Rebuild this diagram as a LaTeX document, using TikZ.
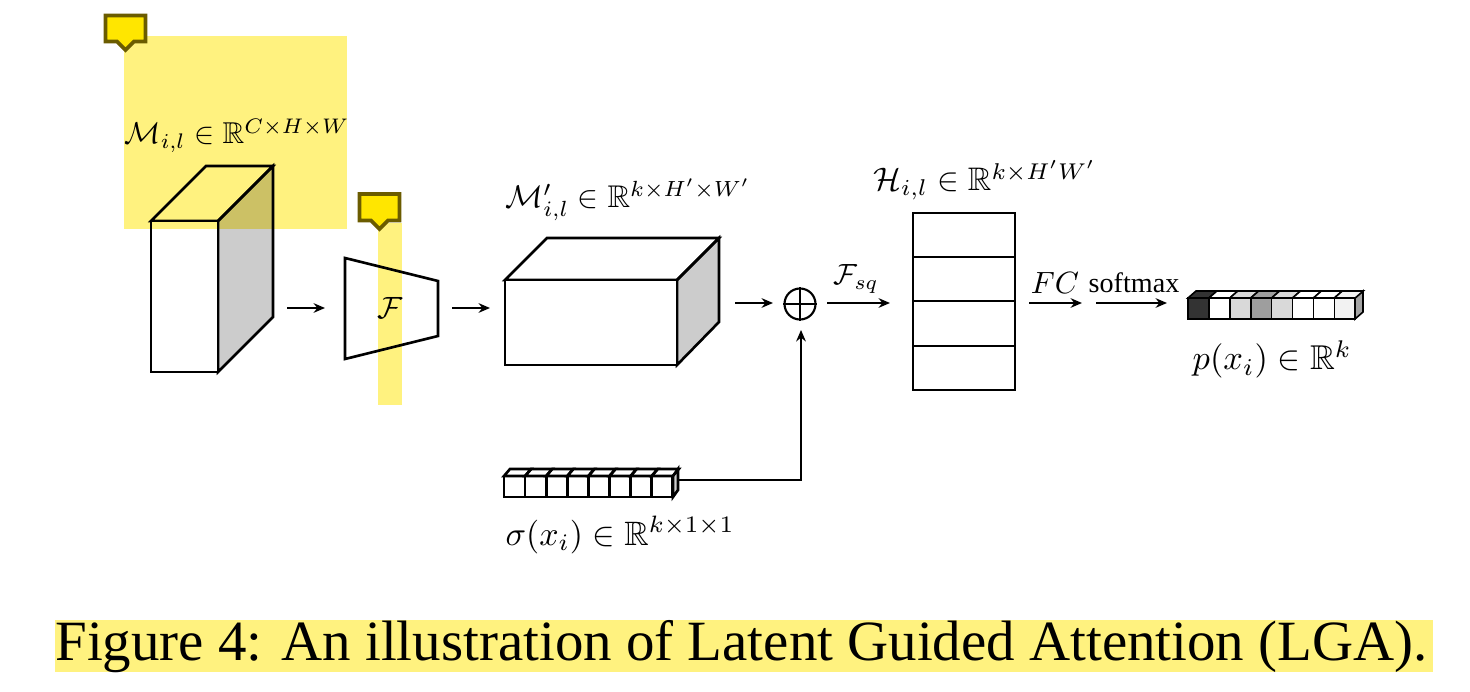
\documentclass[tikz,border=0pt]{standalone}
\usepackage{amssymb}
\usepackage{fontspec}
\setmainfont{Liberation Serif}
\usetikzlibrary{arrows.meta}
\definecolor{hlyellow}{HTML}{FFF27F}
\definecolor{iconyellow}{HTML}{FFE600}
\definecolor{iconedge}{HTML}{6B5C00}
\definecolor{sidegray}{HTML}{CCCCCC}

\begin{document}
\begin{tikzpicture}[x=0.02cm, y=-0.02cm,
    edge/.style={draw=black, line width=1.5pt, line join=miter, outer sep=0pt},
    thinedge/.style={draw=black, line width=0.9pt},
    flow/.style={draw=black, line width=1.2pt, -{Stealth[length=6.5pt,width=5.5pt]}},
    mathlabel/.style={anchor=base west, inner sep=0pt, scale=1.75},
    note/.style={draw=iconedge, fill=iconyellow, line width=2.2pt, line join=miter}]
\useasboundingbox (0,0) rectangle (1470,692);

% input volume
\draw[edge, fill=sidegray] (218,221) -- (273,166) -- (273,317) -- (218,372) -- cycle;
\draw[edge] (151,221) -- (206,166) -- (273,166) -- (218,221) -- cycle;
\node[edge, fill=white, minimum width=1.34cm, minimum height=3.02cm, inner sep=0pt, anchor=north west] (inputfront) at (151,221) {};
\node[mathlabel, scale=0.98] (inputlabel) at (124,144) {$\mathcal{M}_{i,l}\in\mathbb{R}^{C\times H\times W}$};

% encoder
\draw[edge] (345,258) -- (438,281) -- (438,336) -- (345,359) -- cycle;
\node[mathlabel, anchor=center] (encoder) at (390,308) {$\mathcal{F}$};
\coordinate (a1) at (287,308);
\coordinate (a2) at (325,308);
\draw[flow] (a1) -- (a2);
\coordinate (b1) at (452,308);
\coordinate (b2) at (490,308);
\draw[flow] (b1) -- (b2);

% projected volume
\draw[edge, fill=sidegray] (677,280) -- (719,238) -- (719,322) -- (677,365) -- cycle;
\draw[edge] (505,280) -- (547,238) -- (719,238) -- (677,280) -- cycle;
\node[edge, fill=white, minimum width=3.44cm, minimum height=1.7cm, inner sep=0pt, anchor=north west] (projfront) at (505,280) {};
\node[mathlabel, scale=1.02] (projlabel) at (505,208) {$\mathcal{M}'_{i,l}\in\mathbb{R}^{k\times H'\times W'}$};

% sum
\coordinate (c1) at (735,303);
\coordinate (c2) at (773,303);
\draw[flow] (c1) -- (c2);
\node[draw=black, line width=1.2pt, circle, minimum size=0.62cm, inner sep=0pt] (oplus) at (800,304) {};
\draw[line width=1.2pt] (oplus.north) -- (oplus.south) (oplus.west) -- (oplus.east);
\coordinate (d2) at (890,303);
\draw[flow] (827,303) -- (d2);
\node[mathlabel, anchor=center, scale=0.95] (sqlabel) at (856,279) {$\mathcal{F}_{sq}$};

% squeezed stack
\node[edge, minimum width=2.04cm, minimum height=3.54cm, inner sep=0pt, anchor=north west] (stack) at (913,213) {};
\draw[edge] (913,257) -- (1015,257);
\draw[edge] (913,301) -- (1015,301);
\draw[thinedge] (913,346) -- (1015,346);
\node[mathlabel, scale=1.06] (stacklabel) at (873,191) {$\mathcal{H}_{i,l}\in\mathbb{R}^{k\times H'W'}$};

% classifier
\coordinate (e1) at (1029,303);
\coordinate (e2) at (1082,303);
\draw[flow] (e1) -- (e2);
\node[mathlabel, anchor=center] (fclabel) at (1055,283) {$FC$};
\coordinate (f1) at (1096,303);
\coordinate (f2) at (1167,303);
\draw[flow] (f1) -- (f2);
\node[anchor=center, inner sep=0pt, font=\fontsize{16}{18}\selectfont] (softlabel) at (1134,283) {softmax};

% probability bar
\draw[thinedge, fill=sidegray!80!black] (1355,298) -- (1363,291) -- (1363,312) -- (1355,319) -- cycle;
\foreach \i/\shade in {0/80, 1/0, 2/15, 3/38, 4/15, 5/0, 6/0, 7/5} {
  \draw[thinedge, fill=black!\shade] (1188+\i*20.9,298) -- (1196+\i*20.9,291) -- (1216.9+\i*20.9,291) -- (1208.9+\i*20.9,298) -- cycle;
  \draw[thinedge, fill=black!\shade] (1188+\i*20.9,298) rectangle (1208.9+\i*20.9,319);
}
\node[mathlabel, scale=1.12] (problabel) at (1192,370) {$p(x_i)\in\mathbb{R}^{k}$};

% noise bar
\draw[edge, fill=sidegray] (673,476) -- (678,469) -- (678,490) -- (673,497) -- cycle;
\foreach \i in {0,...,7} {
  \draw[edge] (504+\i*21.1,476) -- (510+\i*21.1,469) -- (531.1+\i*21.1,469) -- (525.1+\i*21.1,476) -- cycle;
  \draw[edge] (504+\i*21.1,476) rectangle (525.1+\i*21.1,497);
}
\coordinate (sigmaout) at (678,480);
\coordinate (g2) at (801,330);
\draw[flow] (sigmaout) -| (g2);
\node[mathlabel, scale=1.1] (sigmalabel) at (505,545) {$\sigma(x_i)\in\mathbb{R}^{k\times 1\times 1}$};

% caption
\node[anchor=base west, inner sep=0pt, font=\fontsize{32.4}{36}\selectfont] (caption) at (55,660) {Figure 4: An illustration of Latent Guided Attention (LGA).};

% highlights
\begin{scope}[blend mode=multiply]
\fill[hlyellow] (124,36.5) rectangle (347,229);
\fill[hlyellow] (378,223) rectangle (402,405);
\fill[hlyellow] (55,620) rectangle (1433,672);
\end{scope}

% comment marks
\draw[note] (105.5,15.5) -- (145.5,15.5) -- (145.5,41.5) -- (134,41.5) -- (125.5,50) -- (117,41.5) -- (105.5,41.5) -- cycle;
\draw[note] (359.5,194) -- (399.5,194) -- (399.5,220.5) -- (388,220.5) -- (379.5,229) -- (371,220.5) -- (359.5,220.5) -- cycle;
\end{tikzpicture}
\end{document}
